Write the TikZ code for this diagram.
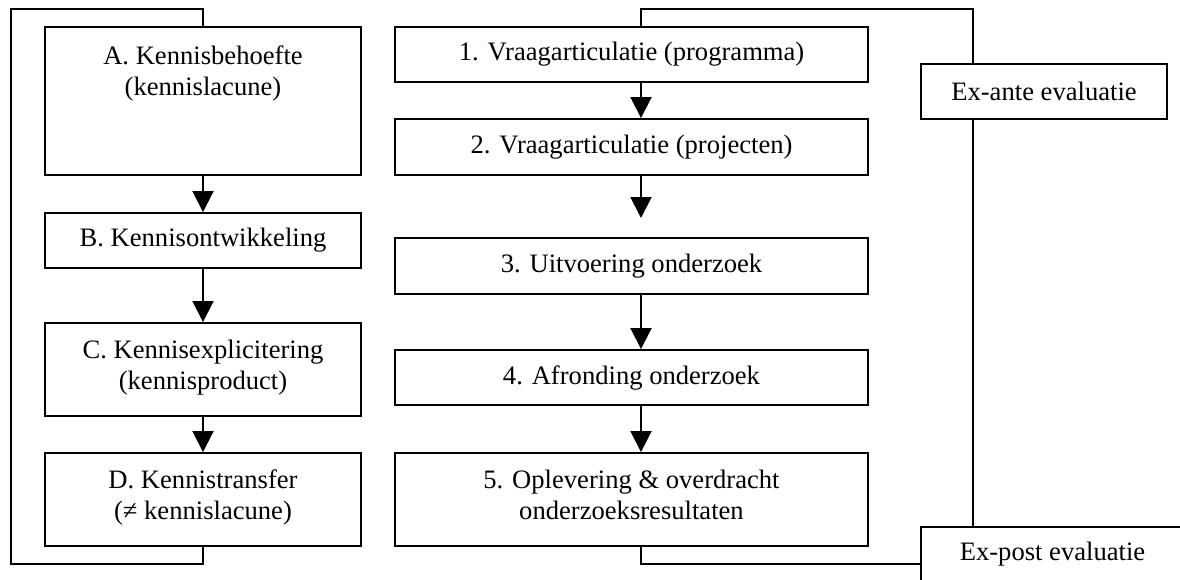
\documentclass[tikz,border=0pt]{standalone}
\usepackage{fontspec}
\setmainfont{Liberation Serif}
\usetikzlibrary{arrows.meta}
\begin{document}
\begin{tikzpicture}[x=1pt,y=-1pt,
  line width=1.9pt,
  every node/.style={font=\fontsize{26.6}{31}\selectfont, inner sep=0pt},
  box/.style={draw, rectangle, line width=1.9pt},
  lbox/.style={box, minimum width=316pt},
  mbox/.style={box, minimum width=473pt},
  txt/.style={align=center, anchor=north},
  arr/.style={-{Triangle[length=21pt,width=21pt]}}]
\useasboundingbox (0,0) rectangle (1180,579);
\clip (0,0) rectangle (1180,579);
% left column
\node[lbox, minimum height=148pt] (A) at (203,101) {};
\node[txt] (Atxt) at (203,45) {A. Kennisbehoefte\\(kennislacune)};
\node[lbox, minimum height=55pt] (B) at (203,240.5) {B. Kennisontwikkeling};
\node[lbox, minimum height=93pt] (C) at (203,369.5) {};
\node[txt] (Ctxt) at (203,339) {C. Kennisexplicitering\\(kennisproduct)};
\node[lbox, minimum height=93pt] (D) at (203,499.5) {};
\node[txt] (Dtxt) at (203,469) {D. Kennistransfer\\(≠ kennislacune)};
% middle column
\node[mbox, minimum height=55pt] (b1) at (631.5,54.5) {1. Vraagarticulatie (programma)};
\node[mbox, minimum height=56pt] (b2) at (631.5,147) {2. Vraagarticulatie (projecten)};
\node[mbox, minimum height=56pt] (b3) at (631.5,266) {3. Uitvoering onderzoek};
\node[mbox, minimum height=55pt] (b4) at (631.5,377.5) {4. Afronding onderzoek};
\node[mbox, minimum height=93pt] (b5) at (631.5,499.5) {};
\node[txt] (b5txt) at (631.5,469) {5. Oplevering \& overdracht\\onderzoeksresultaten};
% evaluation boxes
\node[box, minimum width=246pt, minimum height=55pt] (ea) at (1044,91.5) {Ex-ante evaluatie};
\node[box, minimum width=263pt, minimum height=55pt] (ep) at (1052.5,554.5) {Ex-post evaluatie};
% coordinates
\coordinate (lbl) at (11,564);
\coordinate (ltl) at (11,9);
\coordinate (mx) at (641,0);
\coordinate (rtop) at (973,9);
\coordinate (a23) at (641,218);
\coordinate (rbot) at (641,564);
% left connectors
\draw (D.south) |- (lbl) -- (ltl) -| (A.north);
\draw[arr] (A) -- (B);
\draw[arr] (B) -- (C);
\draw[arr] (C) -- (D);
% middle connectors
\draw[arr] (b1.south -| mx) -- (b2.north -| mx);
\draw[arr] (b2.south -| mx) -- (a23);
\draw[arr] (b3.south -| mx) -- (b4.north -| mx);
\draw[arr] (b4.south -| mx) -- (b5.north -| mx);
% evaluation loops
\draw (b1.north -| mx) |- (rtop) -- (rtop |- ea.north);
\draw (rtop |- ea.south) -- (rtop |- ep.north);
\draw (b5.south -| mx) -- (rbot) -- (rbot -| ep.west);
\end{tikzpicture}
\end{document}
